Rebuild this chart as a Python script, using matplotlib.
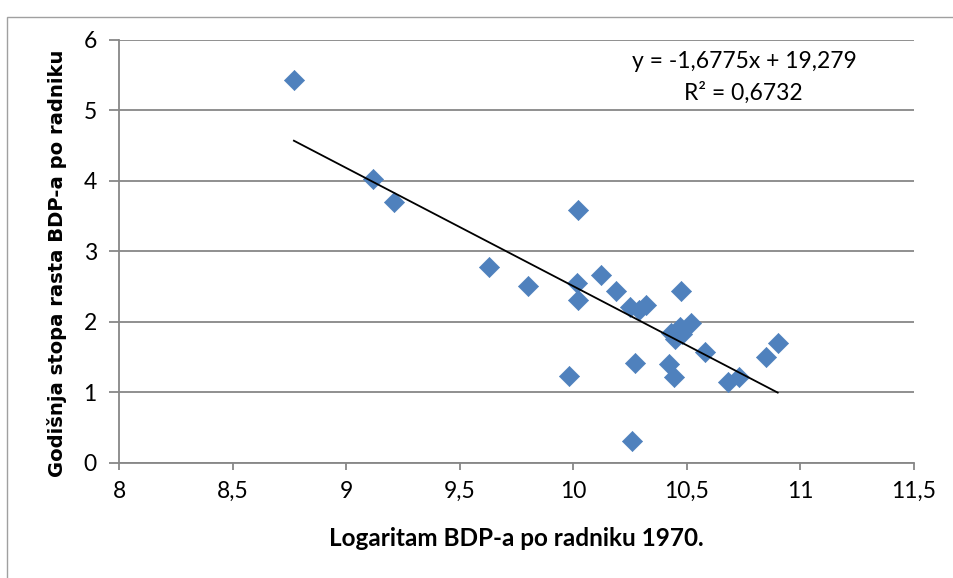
import matplotlib
matplotlib.use("Agg")
import matplotlib.pyplot as plt
from matplotlib.patches import Rectangle

# Data
x_vals = [8.77, 9.12, 9.21, 9.63, 9.80, 9.98, 10.02, 10.015, 10.02, 10.12,
          10.19, 10.25, 10.29, 10.32, 10.27, 10.26, 10.42, 10.445, 10.43, 10.45,
          10.47, 10.48, 10.475, 10.52, 10.58, 10.68, 10.73, 10.85, 10.90]
y_vals = [5.43, 4.03, 3.70, 2.77, 2.51, 1.23, 3.58, 2.55, 2.31, 2.66,
          2.43, 2.21, 2.17, 2.24, 1.42, 0.31, 1.40, 1.22, 1.84, 1.76,
          1.93, 1.82, 2.43, 1.98, 1.57, 1.15, 1.22, 1.50, 1.70]
slope = -1.6775
intercept = 19.279
eq_text = "y = -1,6775x + 19,279"
r2_text = "R² = 0,6732"
x_ticks = [8, 8.5, 9, 9.5, 10, 10.5, 11, 11.5]
x_tick_labels = ["8", "8,5", "9", "9,5", "10", "10,5", "11", "11,5"]
y_ticks = [0, 1, 2, 3, 4, 5, 6]
x_label = "Logaritam BDP-a po radniku 1970."
y_label = "Godišnja stopa rasta BDP-a po radniku"

W, H = 954, 578
fig = plt.figure(figsize=(W / 100, H / 100), dpi=100)
fig.patches.append(Rectangle((7 / W, -0.01), 1.2, 1 - 17 / H + 0.01,
                             transform=fig.transFigure, fill=False,
                             edgecolor="#a0a0a0", lw=1.0))
ax = fig.add_axes([119 / W, 1 - 462.7 / H, (914 - 119) / W, (462.7 - 39.7) / H])

ax.set_xlim(8, 11.5)
ax.set_ylim(0, 6)
ax.set_yticks(y_ticks)
ax.set_xticks(x_ticks)
ax.set_xticklabels(x_tick_labels)
ax.grid(axis="y", color="#878787", lw=1.3)
ax.set_axisbelow(True)
for s in ["top", "right"]:
    ax.spines[s].set_visible(False)
for s in ["left", "bottom"]:
    ax.spines[s].set_color("#878787")
    ax.spines[s].set_linewidth(1.3)
ax.tick_params(axis="x", direction="out", length=5, width=1.3, color="#878787",
               labelsize=16.5, pad=8)
ax.tick_params(axis="y", direction="out", length=7, width=1.3, color="#878787",
               labelsize=16.5, pad=9)
for lbl in ax.get_xticklabels() + ax.get_yticklabels():
    lbl.set_family("Lato")

ax.scatter(x_vals, y_vals, marker="D", s=105, color="#4F81BD", edgecolors="#4F81BD",
           linewidths=0.5, zorder=3)

xmin, xmax = min(x_vals), max(x_vals)
ax.plot([xmin, xmax], [slope * xmin + intercept, slope * xmax + intercept],
        color="black", lw=1.3, zorder=4)

fig.text(744 / W, 1 - 61.7 / H, eq_text, fontsize=16.5, family="Lato",
         ha="center", va="center")
fig.text(743 / W, 1 - 93 / H, r2_text, fontsize=16.5, family="Lato",
         ha="center", va="center")

fig.text(516.5 / W, 1 - 538 / H, x_label, fontsize=17.5, family="Lato",
         weight="bold", ha="center", va="center")
fig.text(57 / W, 1 - 263 / H, y_label, fontsize=14.1, family="DejaVu Sans",
         weight="bold", ha="center", va="center", rotation=90)

fig.savefig("out.png", dpi=100)
